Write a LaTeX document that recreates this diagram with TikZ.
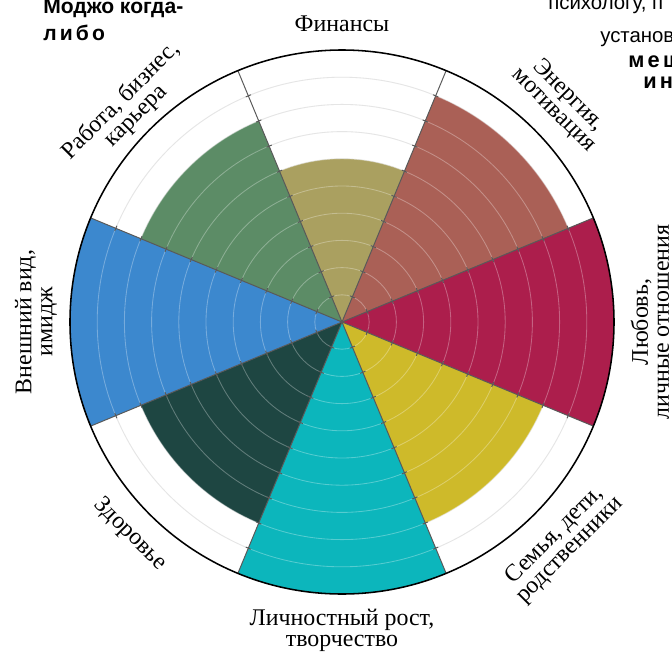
\documentclass[tikz,border=0pt]{standalone}
\usepackage{fontspec}
\setmainfont{Liberation Serif}
\newfontfamily\notefont{Liberation Sans}
\newfontfamily\spacedfont[LetterSpace=15]{Liberation Sans}

\definecolor{money}{RGB}{170,160,96}
\definecolor{drive}{RGB}{170,96,86}
\definecolor{romance}{RGB}{172,30,76}
\definecolor{kin}{RGB}{206,186,42}
\definecolor{growth}{RGB}{12,182,188}
\definecolor{health}{RGB}{30,70,66}
\definecolor{looks}{RGB}{60,136,206}
\definecolor{career}{RGB}{92,140,102}

\begin{document}
\begin{tikzpicture}[
  ring/.style={black!14, line width=0.6pt},
  glint/.style={white, opacity=0.3, line width=0.6pt},
  spoke/.style={black!65, line width=0.7pt},
  rim/.style={black, line width=1.1pt},
  area/.style={align=center, inner sep=1pt, font=\fontsize{17}{15}\selectfont},
  fragment/.style={anchor=base west, inner sep=0pt, font=\notefont\fontsize{14.5}{16}\selectfont}
]
\useasboundingbox (-8.55,-8.25) rectangle (8.25,8.05);
\coordinate (hub) at (0,0);

% rings under the sectors
\foreach \r in {1,...,9}
  \draw[ring] (hub) circle[radius=\r*0.68];

% sectors: angle / level / colour
\foreach \a/\v/\c in {90/6/money, 45/9/drive, 0/10/romance, -45/8/kin,
                      -90/10/growth, -135/8/health, 180/10/looks, 135/8/career}
  \fill[\c] (hub) -- ({\a-22.5}:{\v*0.68})
    arc[start angle=\a-22.5, end angle=\a+22.5, radius=\v*0.68] -- cycle;

% rings over the sectors
\foreach \r in {1,...,9}
  \draw[glint] (hub) circle[radius=\r*0.68];

% spokes with ticks
\foreach \a in {22.5,67.5,...,337.5} {
  \draw[spoke] (hub) -- (\a:6.8);
  \foreach \r in {1,...,9}
    \draw[spoke, rotate=\a] ({\r*0.68},-0.07) -- ({\r*0.68},0.07);
}
\draw[rim] (hub) circle[radius=6.8];

% area names
\node[area] (fin) at (90:7.45) {Финансы};
\node[area, rotate=-45] (energy) at (45:7.75) {Энергия,\\мотивация};
\node[area, rotate=90] (love) at (0:7.7) {Любовь,\\личные отношения};
\node[area, rotate=45] (family) at (-45:7.8) {Семья, дети,\\родственники};
\node[area] (self) at (-90:7.7) {Личностный рост,\\творчество};
\node[area, rotate=-45] (body) at (-135:7.5) {Здоровье};
\node[area, rotate=90] (look) at (180:7.65) {Внешний вид,\\имидж};
\node[area, rotate=45] (work) at (135:7.55) {Работа, бизнес,\\карьера};

% cut-off page text
\node[fragment, font=\notefont\bfseries\fontsize{15}{16}\selectfont] (mojo) at (-7.475,7.725) {Моджо когда-};
\node[fragment, font=\spacedfont\bfseries\fontsize{15}{16}\selectfont] (either) at (-7.475,7.05) {либо};
\node[fragment] (psych) at (5.15,7.82) {психологу, п};
\node[fragment] (setup) at (6.45,7.0) {установ};
\node[fragment, font=\spacedfont\bfseries\fontsize{15.5}{16}\selectfont] (mesh) at (7.15,6.375) {мещ};
\node[fragment, font=\spacedfont\bfseries\fontsize{15.5}{16}\selectfont] (in) at (7.525,5.85) {ин};
\end{tikzpicture}
\end{document}
